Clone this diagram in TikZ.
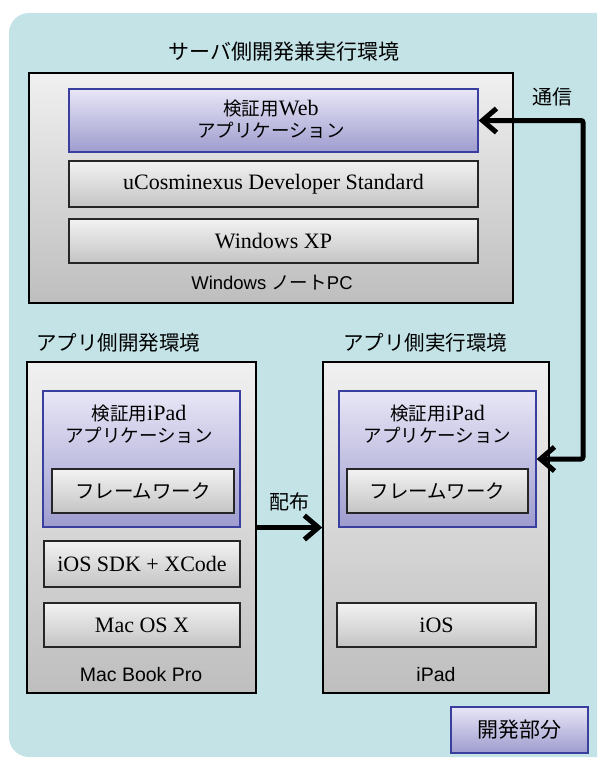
\documentclass[tikz,border=0pt]{standalone}
\usepackage{fontspec}
\setmainfont{Liberation Serif}
\newfontfamily\jp{Noto Sans CJK JP}
\newfontfamily\lsans{Liberation Sans}
\usetikzlibrary{arrows.meta}
\definecolor{bgc}{RGB}{196,227,231}
\definecolor{gtop}{RGB}{240,240,240}
\definecolor{gbot}{RGB}{190,190,190}
\definecolor{itop}{RGB}{242,242,242}
\definecolor{ibot}{RGB}{196,196,196}
\definecolor{ptop}{RGB}{232,230,246}
\definecolor{pbot}{RGB}{158,156,206}
\definecolor{pline}{RGB}{58,62,158}
\newcommand{\setsz}[2]{\fontsize{#1}{#2}\selectfont}
\newcommand{\lat}[1]{{\rmfamily\setsz{22}{22}#1}}
\begin{document}
\begin{tikzpicture}[x=1pt,y=-1pt,
  outerbox/.style={draw=black, line width=1.6pt, top color=gtop, bottom color=gbot, inner sep=0pt},
  innerbox/.style={draw=black!85, line width=1.5pt, top color=itop, bottom color=ibot, inner sep=0pt},
  appbox/.style={draw=pline, line width=1.3pt, top color=ptop, bottom color=pbot, inner sep=0pt},
  title/.style={font=\jp\setsz{21}{24}, inner sep=0pt},
  apptext/.style={font=\jp\setsz{18.5}{22}, align=center, inner sep=0pt},
  serif/.style={font=\setsz{22}{24}, inner sep=0pt},
  sanslab/.style={font=\lsans\setsz{19}{22}, inner sep=0pt},
  conn/.style={line width=5pt, {Straight Barb[length=14pt,width=24pt]}-{Straight Barb[length=14pt,width=24pt]}, rounded corners=2pt},
  dist/.style={line width=5pt, -{Straight Barb[length=14pt,width=24pt]}}
]
\clip (0,0) rectangle (597,760);
\useasboundingbox (0,0) rectangle (597,760);
\fill[bgc, rounded corners=20pt] (9,13) rectangle (640,757);

% server side
\node[title] (t1) at (284,52) {サーバ側開発兼実行環境};
\node[outerbox, minimum width=484pt, minimum height=230pt] (server) at (271,188) {};
\node[appbox, minimum width=409pt, minimum height=63pt] (webapp) at (273.5,120.5) {};
\node[apptext] (webtxt) at (271,119) {検証用\lat{Web}\\アプリケーション};
\node[innerbox, minimum width=409pt, minimum height=46pt] (ucos) at (273.5,184) {};
\node[serif] (ucostxt) at (273.5,184) {uCosminexus Developer Standard};
\node[innerbox, minimum width=409pt, minimum height=44pt] (winxp) at (273.5,241) {};
\node[serif] (winxptxt) at (273.5,241) {Windows XP};
\node[sanslab, font=\lsans\setsz{18.5}{22}] (pc) at (272,283) {Windows {\jp ノート}PC};
\node[title, font=\jp\setsz{20}{24}] (tsushin) at (552,97) {通信};

% development side
\node[title, font=\jp\setsz{20.5}{24}] (t2) at (118,343) {アプリ側開発環境};
\node[outerbox, minimum width=229pt, minimum height=331pt] (devbox) at (141.5,527.5) {};
\node[appbox, minimum width=197pt, minimum height=136pt] (devapp) at (141.5,459) {};
\node[apptext] (devtxt) at (139,424) {検証用\lat{iPad}\\アプリケーション};
\node[innerbox, minimum width=182pt, minimum height=44pt] (fw1) at (143,491) {};
\node[title, font=\jp\setsz{19.5}{24}] (fw1txt) at (143,491) {フレームワーク};
\node[innerbox, minimum width=196pt, minimum height=46pt] (sdk) at (142,564) {};
\node[serif] (sdktxt) at (142,564) {iOS SDK + XCode};
\node[innerbox, minimum width=196pt, minimum height=44pt] (macos) at (142,625) {};
\node[serif] (macostxt) at (142,625) {Mac OS X};
\node[sanslab, font=\lsans\setsz{19.5}{22}] (mbp) at (141,675) {Mac Book Pro};

% runtime side
\node[title, font=\jp\setsz{20.5}{24}] (t3) at (425,343) {アプリ側実行環境};
\node[outerbox, minimum width=226pt, minimum height=331pt] (runbox) at (436,527.5) {};
\node[appbox, minimum width=197pt, minimum height=136pt] (runapp) at (437.5,459) {};
\node[apptext] (runtxt) at (437.5,424) {検証用\lat{iPad}\\アプリケーション};
\node[innerbox, minimum width=181pt, minimum height=44pt] (fw2) at (437.5,491) {};
\node[title, font=\jp\setsz{19.5}{24}] (fw2txt) at (437.5,491) {フレームワーク};
\node[innerbox, minimum width=199pt, minimum height=44pt] (ios) at (436.5,625) {};
\node[serif] (iostxt) at (436.5,625) {iOS};
\node[sanslab, font=\lsans\setsz{19.5}{22}] (ipad) at (436,675) {iPad};

% distribution
\node[title, font=\jp\setsz{20}{24}] (haifu) at (289,502) {配布};
\draw[dist] (devbox.east) -- (runbox.west);

% communication
\coordinate (cx) at (583,0);
\draw[conn] (webapp.east) -- (webapp.east -| cx) -- (runapp.east -| cx) -- (runapp.east);

% legend
\node[appbox, minimum width=137pt, minimum height=46pt] (legend) at (519.5,730) {};
\node[title] (legtxt) at (519.5,730) {開発部分};
\end{tikzpicture}
\end{document}
